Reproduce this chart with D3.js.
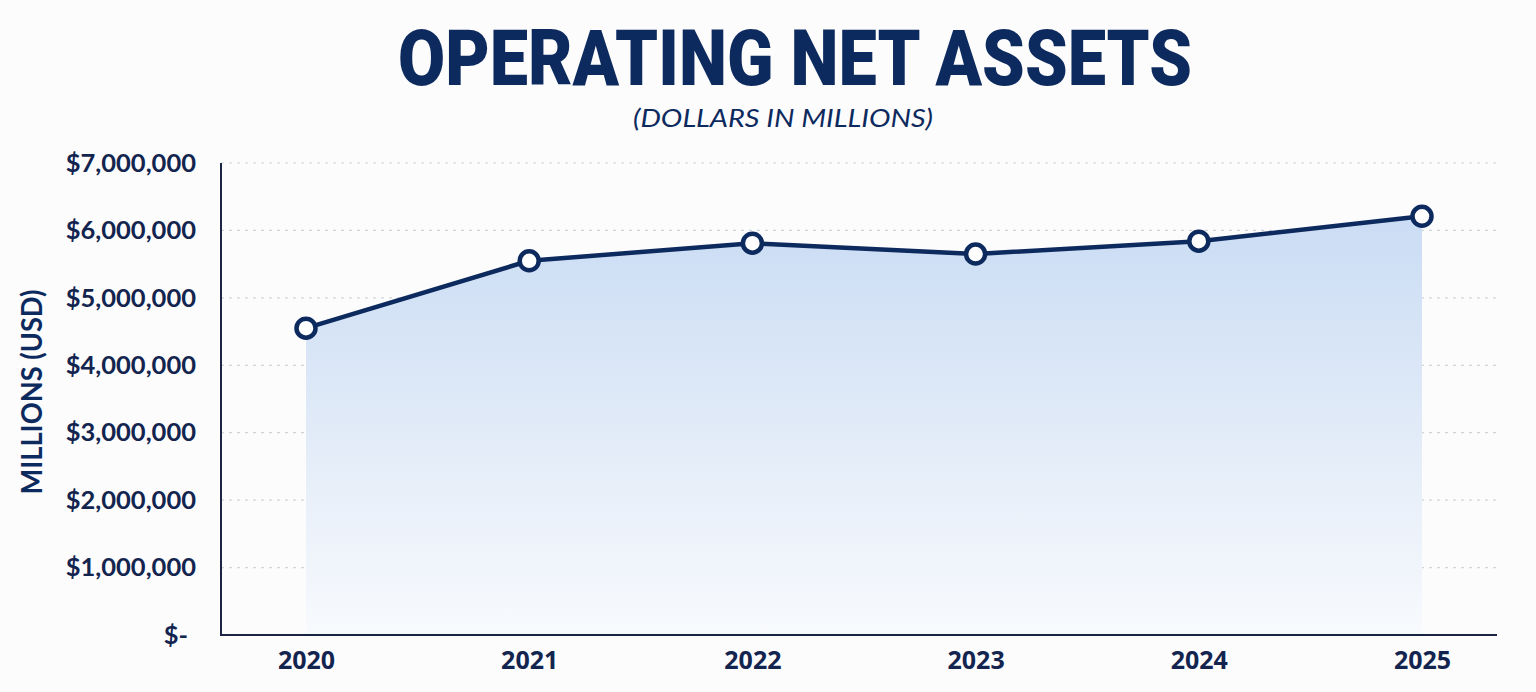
<!DOCTYPE html>
<html>
<head>
<meta charset="utf-8">
<script src="https://cdn.jsdelivr.net/npm/d3@7"></script>
<style>
  html, body { margin: 0; padding: 0; background: #fcfcfd; }
  svg { display: block; }
</style>
</head>
<body>
<svg id="chart"></svg>
<script>
// chart data
let years = ['2020', '2021', '2022', '2023', '2024', '2025'];
let netAssets = [4550000, 5550000, 5810000, 5650000, 5840000, 6210000];
let yTicks = [0, 1000000, 2000000, 3000000, 4000000, 5000000, 6000000, 7000000];

let width = 1536;
let height = 692;
let navy = '#0d2a5e';
let textNavy = '#13254f';

let svg = d3.select('#chart')
    .attr('width', width)
    .attr('height', height);

let plot = {left: 221, right: 1497, top: 163, bottom: 635};

let xScale = d3.scalePoint()
    .domain(years)
    .range([306, 1422]);

let yScale = d3.scaleLinear()
    .domain([0, 7000000])
    .range([plot.bottom, plot.top]);

// gradient for the area
let defs = svg.append('defs');
let grad = defs.append('linearGradient')
    .attr('id', 'areaGrad')
    .attr('gradientUnits', 'userSpaceOnUse')
    .attr('x1', 0).attr('x2', 0)
    .attr('y1', yScale(d3.max(netAssets))).attr('y2', plot.bottom);
grad.append('stop').attr('offset', '0%').attr('stop-color', '#cadcf4');
grad.append('stop').attr('offset', '55%').attr('stop-color', '#e3ecf8');
grad.append('stop').attr('offset', '100%').attr('stop-color', '#f8fafd');

// title
svg.append('text')
    .attr('x', 795)
    .attr('y', 85)
    .attr('text-anchor', 'middle')
    .attr('textLength', 794)
    .attr('lengthAdjust', 'spacingAndGlyphs')
    .style('font-family', 'Roboto, Lato, sans-serif')
    .style('font-weight', 900)
    .style('font-size', '77px')
    .style('fill', navy)
    .text('OPERATING NET ASSETS');

svg.append('text')
    .attr('x', 783)
    .attr('y', 127)
    .attr('text-anchor', 'middle')
    .attr('textLength', 300)
    .attr('lengthAdjust', 'spacingAndGlyphs')
    .style('font-family', 'Lato, sans-serif')
    .style('font-style', 'italic')
    .style('font-size', '25px')
    .style('fill', navy)
    .text('(DOLLARS IN MILLIONS)');

// gridlines
svg.append('g')
    .selectAll('line')
    .data(yTicks.slice(1))
    .enter()
    .append('line')
    .attr('x1', plot.left)
    .attr('x2', plot.right)
    .attr('y1', d => yScale(d))
    .attr('y2', d => yScale(d))
    .attr('stroke', '#cfd3db')
    .attr('stroke-width', 1.2)
    .attr('stroke-dasharray', '3,5');

// area + line
let area = d3.area()
    .x((d, i) => xScale(years[i]))
    .y0(plot.bottom)
    .y1(d => yScale(d));

svg.append('path')
    .datum(netAssets)
    .attr('d', area)
    .attr('fill', 'url(#areaGrad)');

let line = d3.line()
    .x((d, i) => xScale(years[i]))
    .y(d => yScale(d));

svg.append('path')
    .datum(netAssets)
    .attr('d', line)
    .attr('fill', 'none')
    .attr('stroke', navy)
    .attr('stroke-width', 4.5)
    .attr('stroke-linejoin', 'round');

// axes
let yAxis = d3.axisLeft(yScale)
    .tickValues(yTicks)
    .tickSize(0)
    .tickPadding(25)
    .tickFormat(d => d === 0 ? '$-' : '$' + d3.format(',')(d));

let yG = svg.append('g')
    .attr('transform', 'translate(' + plot.left + ',0)')
    .call(yAxis);
yG.select('.domain').remove();
yG.selectAll('text')
    .style('font-family', 'Lato, sans-serif')
    .style('font-weight', 700)
    .style('font-size', '25.5px')
    .style('fill', textNavy);
yG.selectAll('.tick')
    .filter(d => d === 0)
    .select('text')
    .attr('x', -33);

let xAxis = d3.axisBottom(xScale)
    .tickSize(0)
    .tickPadding(16);

let xG = svg.append('g')
    .attr('transform', 'translate(0,' + plot.bottom + ')')
    .call(xAxis);
xG.select('.domain').remove();
xG.selectAll('text')
    .style('font-family', '"Open Sans", sans-serif')
    .style('font-weight', 700)
    .style('font-size', '25px')
    .style('fill', textNavy);

svg.append('line')
    .attr('x1', plot.left).attr('x2', plot.left)
    .attr('y1', plot.top).attr('y2', plot.bottom + 1)
    .attr('stroke', '#1a2542')
    .attr('stroke-width', 2);

svg.append('line')
    .attr('x1', plot.left - 1).attr('x2', plot.right)
    .attr('y1', plot.bottom).attr('y2', plot.bottom)
    .attr('stroke', '#1a2542')
    .attr('stroke-width', 2);

// points
svg.append('g')
    .selectAll('circle')
    .data(netAssets)
    .enter()
    .append('circle')
    .attr('cx', (d, i) => xScale(years[i]))
    .attr('cy', d => yScale(d))
    .attr('r', 9.5)
    .attr('fill', '#ffffff')
    .attr('stroke', navy)
    .attr('stroke-width', 4.5);

// y axis title
svg.append('text')
    .attr('transform', 'translate(42,392) rotate(-90)')
    .attr('text-anchor', 'middle')
    .attr('textLength', 205)
    .attr('lengthAdjust', 'spacingAndGlyphs')
    .style('font-family', 'Lato, sans-serif')
    .style('font-weight', 700)
    .style('font-size', '28px')
    .style('fill', navy)
    .text('MILLIONS (USD)');
</script>
</body>
</html>
